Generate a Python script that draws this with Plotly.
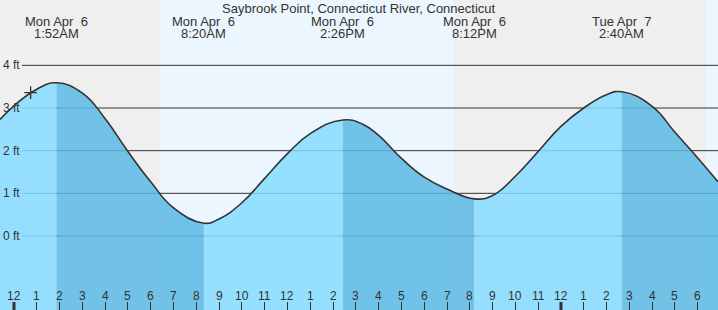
import plotly.graph_objects as go

# ---- data (hours since Mon Apr 6 00:00, height in ft) ----
tide_h = [-0.614, 0, 1, 1.867, 3, 4, 5, 6, 7, 8.333, 9, 10, 11, 12, 13,
          14.433, 15.3, 16, 17, 18, 19, 20.2, 21, 22, 23, 24, 25, 26, 26.667,
          28, 29, 30, 30.89]
tide_ft = [2.73, 3.05, 3.44, 3.59, 3.35, 2.75, 1.98, 1.27, 0.66, 0.30, 0.40, 0.78,
           1.35, 1.93, 2.40, 2.72, 2.62, 2.36, 1.82, 1.38, 1.10, 0.87, 0.95, 1.40, 1.98,
           2.57, 3.00, 3.31, 3.38, 3.04, 2.43, 1.83, 1.27]

# extremes (high / low) with labels
ext_h = [1.867, 8.333, 14.433, 20.2, 26.667]
ext_day = ["Mon Apr\u00a0 6", "Mon Apr\u00a0 6", "Mon Apr\u00a0 6", "Mon Apr\u00a0 6", "Tue Apr\u00a0 7"]
ext_time = ["1:52AM", "8:20AM", "2:26PM", "8:12PM", "2:40AM"]

# daylight intervals (sunrise, sunset)
day_start = [6.41, 30.36]
day_end = [19.31, 31.5]

# hour ticks
hour_vals = list(range(0, 31))
hour_text = ["12", "1", "2", "3", "4", "5", "6", "7", "8", "9", "10", "11",
             "12", "1", "2", "3", "4", "5", "6", "7", "8", "9", "10", "11",
             "12", "1", "2", "3", "4", "5", "6"]
midnight_vals = [0, 24]

# y grid
ft_vals = [0, 1, 2, 3, 4]
ft_text = ["0 ft", "1 ft", "2 ft", "3 ft", "4 ft"]

# current-time marker
now_h = [0.73]
now_ft = [3.36]

title_text = "Saybrook Point, Connecticut River, Connecticut"

# ---- layout constants ----
X0, X1 = -0.614, 30.89
Y0, Y1 = -1.734, 5.531
W, H = 718, 310
TXT = "#333333"
FONT = "Liberation Sans, Arial, sans-serif"
LIGHT = "rgba(134,218,255,0.85)"
DARK = "rgba(92,184,228,0.85)"
SMOOTH = 1.3

fig = go.Figure()

# filled segments between extremes
bounds = [tide_h[0]] + ext_h + [tide_h[-1]]
for i in range(len(bounds) - 1):
    a, b = bounds[i], bounds[i + 1]
    xs = [h for h in tide_h if a - 1e-9 <= h <= b + 1e-9]
    ys = [f for h, f in zip(tide_h, tide_ft) if a - 1e-9 <= h <= b + 1e-9]
    color = LIGHT if i % 2 == 0 else DARK
    fig.add_trace(go.Scatter(x=[a, b], y=[Y0, Y0], mode="lines",
                             line=dict(width=0, color="rgba(0,0,0,0)"),
                             hoverinfo="skip", showlegend=False))
    fig.add_trace(go.Scatter(x=xs, y=ys, mode="lines", fill="tonexty",
                             fillcolor=color,
                             line=dict(width=0, shape="spline", smoothing=SMOOTH,
                                       color="rgba(0,0,0,0)"),
                             hoverinfo="skip", showlegend=False))

# outline
fig.add_trace(go.Scatter(x=tide_h, y=tide_ft, mode="lines",
                         line=dict(color="#333333", width=1.6, shape="spline", smoothing=SMOOTH),
                         hoverinfo="skip", showlegend=False))

# current time marker
fig.add_trace(go.Scatter(x=now_h, y=now_ft, mode="markers",
                         marker=dict(symbol="cross-thin", size=9,
                                     line=dict(color="#333333", width=1.3)),
                         hoverinfo="skip", showlegend=False))

shapes = []
# night background
shapes.append(dict(type="rect", xref="paper", yref="paper", x0=0, x1=1, y0=0, y1=1,
                   fillcolor="#efefef", line=dict(width=0), layer="below"))
for s, e in zip(day_start, day_end):
    shapes.append(dict(type="rect", xref="x", yref="paper", x0=s, x1=e, y0=0, y1=1,
                       fillcolor="#ecf6fe", line=dict(width=0), layer="below"))
# grid lines
for v in ft_vals:
    shapes.append(dict(type="line", xref="paper", yref="y", x0=22 / W, x1=1, y0=v, y1=v,
                       line=dict(color="#333333", width=1), layer="below"))
# midnight thick ticks
for v in midnight_vals:
    shapes.append(dict(type="line", xref="x", yref="paper", x0=v, x1=v, y0=0, y1=8 / H,
                       line=dict(color="#333333", width=3), layer="above"))

annotations = []
annotations.append(dict(text=title_text, x=0.5, xref="paper", y=1, yref="paper",
                        yanchor="middle", yshift=-8, showarrow=False, borderpad=0,
                        font=dict(size=13, color=TXT, family=FONT)))
for h, d, t in zip(ext_h, ext_day, ext_time):
    annotations.append(dict(text=d, x=h, xref="x", y=1, yref="paper", yanchor="middle",
                            yshift=-21, showarrow=False, borderpad=0,
                            font=dict(size=13, color=TXT, family=FONT)))
    annotations.append(dict(text=t, x=h, xref="x", y=1, yref="paper", yanchor="middle",
                            yshift=-33, showarrow=False, borderpad=0,
                            font=dict(size=13, color=TXT, family=FONT)))
for v, t in zip(ft_vals, ft_text):
    annotations.append(dict(text=t, x=0, xref="paper", y=v, yref="y", xanchor="left",
                            xshift=1, yanchor="middle", showarrow=False,
                            font=dict(size=12, color=TXT, family=FONT)))
for v, t in zip(hour_vals, hour_text):
    annotations.append(dict(text=t, x=v, xref="x", y=0, yref="paper", yanchor="middle",
                            yshift=14, showarrow=False,
                            font=dict(size=12, color=TXT, family=FONT)))

fig.update_layout(
    width=W, height=H,
    margin=dict(l=0, r=0, t=0, b=0),
    paper_bgcolor="#efefef", plot_bgcolor="#efefef",
    shapes=shapes, annotations=annotations,
    xaxis=dict(range=[X0, X1], showgrid=False, zeroline=False, showline=False,
               tickvals=hour_vals, showticklabels=False, ticks="inside", ticklen=8,
               tickwidth=1, tickcolor="#333333", fixedrange=True),
    yaxis=dict(range=[Y0, Y1], showgrid=False, zeroline=False, showline=False,
               showticklabels=False, ticks="", fixedrange=True),
    showlegend=False,
)

fig.write_html("out.html", config={"displayModeBar": False})
